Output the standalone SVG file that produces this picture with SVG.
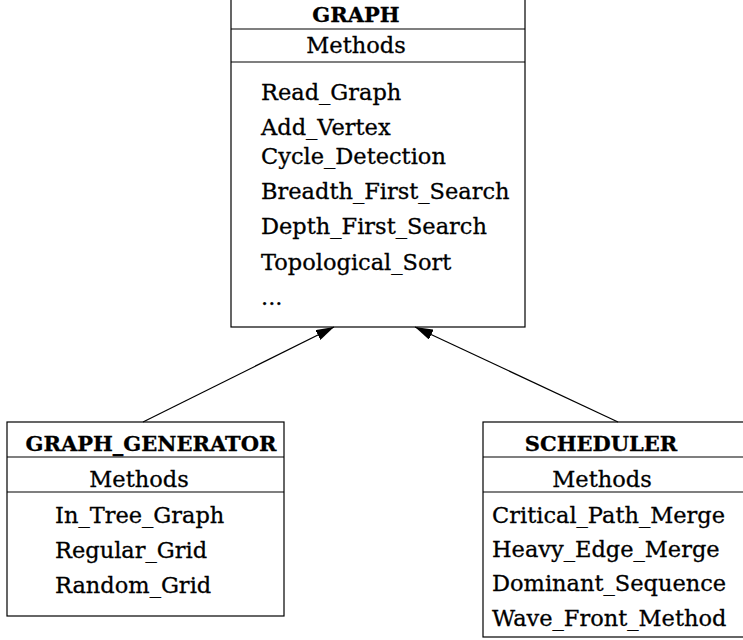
<svg xmlns="http://www.w3.org/2000/svg" width="743" height="640" viewBox="0 0 743 640">
<style>
.box{fill:#fff;stroke:#000;stroke-width:1.2}
.sep{stroke:#000;stroke-width:1.2}
text{font-family:"DejaVu Serif","Liberation Serif",serif;font-size:22.5px;fill:#000;stroke:#000;stroke-width:0.3}
.t{font-weight:bold;font-size:21px}
.c{text-anchor:middle}
.edge{stroke:#000;stroke-width:1.2;fill:none}
</style>
<defs>
<marker id="ah" markerWidth="18" markerHeight="11" refX="18" refY="5.5" orient="auto" markerUnits="userSpaceOnUse">
<path d="M0,0 L18,5.5 L0,11 z" fill="#000"/>
</marker>
</defs>
<g id="graph">
<rect class="box" x="231" y="-2" width="294" height="329"/>
<line class="sep" x1="231" y1="29" x2="525" y2="29"/>
<line class="sep" x1="231" y1="62" x2="525" y2="62"/>
<text class="t c" x="356" y="22">GRAPH</text>
<text class="c" x="356" y="53">Methods</text>
<text x="261" y="100">Read_Graph</text>
<text x="261" y="135">Add_Vertex</text>
<text x="261" y="164">Cycle_Detection</text>
<text x="261" y="199">Breadth_First_Search</text>
<text x="261" y="234">Depth_First_Search</text>
<text x="261" y="270">Topological_Sort</text>
<text x="261" y="305">...</text>
</g>
<g id="graph_generator">
<rect class="box" x="7" y="422" width="277" height="194"/>
<line class="sep" x1="7" y1="457" x2="284" y2="457"/>
<line class="sep" x1="7" y1="492" x2="284" y2="492"/>
<text class="t c" x="151" y="451">GRAPH_GENERATOR</text>
<text class="c" x="139" y="487">Methods</text>
<text x="55" y="523">In_Tree_Graph</text>
<text x="55" y="558">Regular_Grid</text>
<text x="55" y="593">Random_Grid</text>
</g>
<g id="scheduler">
<rect class="box" x="483" y="422" width="270" height="215"/>
<line class="sep" x1="483" y1="457" x2="753" y2="457"/>
<line class="sep" x1="483" y1="492" x2="753" y2="492"/>
<text class="t c" x="601" y="451">SCHEDULER</text>
<text class="c" x="602" y="487">Methods</text>
<text x="492" y="523">Critical_Path_Merge</text>
<text x="492" y="557">Heavy_Edge_Merge</text>
<text x="492" y="591">Dominant_Sequence</text>
<text x="492" y="626">Wave_Front_Method</text>
</g>
<g id="connectors">
<line class="edge" x1="143" y1="422" x2="334" y2="327" marker-end="url(#ah)"/>
<line class="edge" x1="618" y1="422" x2="415" y2="327" marker-end="url(#ah)"/>
</g>
</svg>
